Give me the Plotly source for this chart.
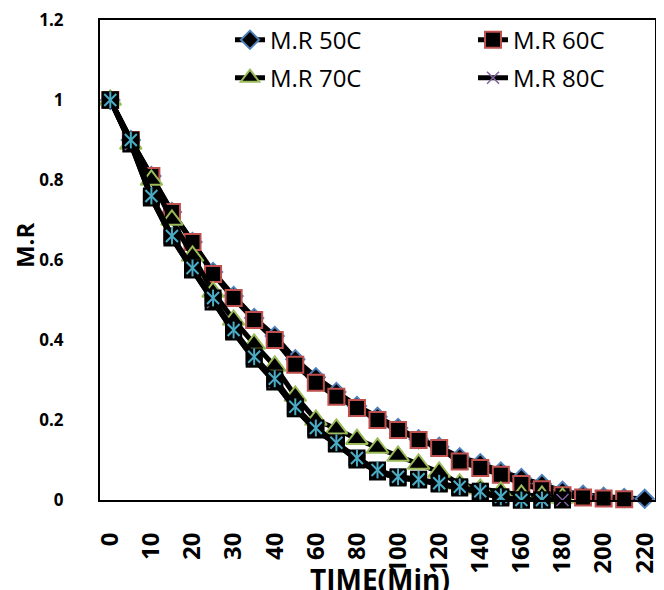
import plotly.graph_objects as go

# ---- data ----
time_categories = [0, 5, 10, 15, 20, 25, 30, 35, 40, 50, 60, 70, 80, 90, 100,
                   110, 120, 130, 140, 150, 160, 170, 180, 190, 200, 210, 220]
x_tick_labels = ["0", "10", "20", "30", "40", "60", "80", "100", "120", "140",
                 "160", "180", "200", "220"]
y_tick_values = [0, 0.2, 0.4, 0.6, 0.8, 1.0, 1.2]
y_tick_labels = ["0", "0.2", "0.4", "0.6", "0.8", "1", "1.2"]

mr_50c = [1.0, 0.90, 0.81, 0.72, 0.645, 0.57, 0.51, 0.455, 0.41, 0.352, 0.307,
          0.27, 0.235, 0.208, 0.18, 0.152, 0.133, 0.107, 0.092, 0.071, 0.055,
          0.04, 0.023, 0.013, 0.008, 0.005, 0.003]
mr_60c = [1.0, 0.90, 0.81, 0.72, 0.645, 0.565, 0.505, 0.45, 0.40, 0.338, 0.293,
          0.258, 0.23, 0.20, 0.175, 0.15, 0.13, 0.096, 0.08, 0.063, 0.04,
          0.027, 0.012, 0.006, 0.004, 0.002]
mr_70c = [1.0, 0.89, 0.80, 0.70, 0.61, 0.52, 0.45, 0.39, 0.335, 0.26, 0.20,
          0.178, 0.152, 0.13, 0.11, 0.09, 0.07, 0.04, 0.028, 0.02, 0.013,
          0.01, 0.005]
mr_80c = [1.0, 0.89, 0.755, 0.655, 0.575, 0.495, 0.42, 0.352, 0.295, 0.228,
          0.175, 0.14, 0.10, 0.07, 0.055, 0.05, 0.04, 0.03, 0.02, 0.005, 0.0,
          0.0, 0.0]
mr_series5 = [1.0, 0.90, 0.76, 0.66, 0.58, 0.505, 0.425, 0.358, 0.303, 0.233,
              0.18, 0.143, 0.105, 0.075, 0.058, 0.052, 0.042, 0.033, 0.022,
              0.008, 0.0, 0.0]

cats = [str(t) for t in time_categories]

def xs(vals):
    return cats[:len(vals)]

LINE = dict(color="black", width=5)
FONT = "Open Sans"
BLUE, RED, GREEN, PURPLE, CYAN = "#4F81BD", "#C0504D", "#9BBB59", "#8064A2", "#4BACC6"

fig = go.Figure()

# M.R 50C
fig.add_trace(go.Scatter(
    x=xs(mr_50c), y=mr_50c, name="M.R 50C", mode="lines+markers", line=LINE,
    marker=dict(symbol="diamond", size=14, color="black",
                line=dict(color=BLUE, width=2)),
    cliponaxis=False, legend="legend"))
# M.R 60C
fig.add_trace(go.Scatter(
    x=xs(mr_60c), y=mr_60c, name="M.R 60C", mode="lines+markers", line=LINE,
    marker=dict(symbol="square", size=16, color="black",
                line=dict(color=RED, width=2)),
    cliponaxis=False, legend="legend2"))
# M.R 70C
fig.add_trace(go.Scatter(
    x=xs(mr_70c), y=mr_70c, name="M.R 70C", mode="lines+markers", line=LINE,
    marker=dict(symbol="triangle-up", size=19, color="black",
                line=dict(color=GREEN, width=2)),
    cliponaxis=False, legend="legend3"))
# M.R 80C (black square background + purple x)
fig.add_trace(go.Scatter(
    x=xs(mr_80c), y=mr_80c, name="M.R 80C", mode="lines+markers", line=LINE,
    marker=dict(symbol="square", size=17, color="black", line=dict(width=0)),
    cliponaxis=False, showlegend=False))
fig.add_trace(go.Scatter(
    x=xs(mr_80c), y=mr_80c, name="M.R 80C", mode="lines+markers", line=LINE,
    marker=dict(symbol="x-thin-open", size=12, color=PURPLE,
                line=dict(color=PURPLE, width=1.5)),
    cliponaxis=False, legend="legend4"))
# unlabeled fifth series (cyan star on black square)
fig.add_trace(go.Scatter(
    x=xs(mr_series5), y=mr_series5, name="series5", mode="lines+markers",
    line=LINE,
    marker=dict(symbol="square", size=17, color="black", line=dict(width=0)),
    cliponaxis=False, showlegend=False))
fig.add_trace(go.Scatter(
    x=xs(mr_series5), y=mr_series5, name="series5", mode="markers",
    marker=dict(symbol="x-thin-open", size=12, color=CYAN,
                line=dict(color=CYAN, width=2)),
    cliponaxis=False, showlegend=False))
fig.add_trace(go.Scatter(
    x=xs(mr_series5), y=mr_series5, name="series5", mode="markers",
    marker=dict(symbol="line-ns-open", size=12, color=CYAN,
                line=dict(color=CYAN, width=2)),
    cliponaxis=False, showlegend=False))

legend_common = dict(orientation="h", bgcolor="rgba(0,0,0,0)", borderwidth=0,
                     font=dict(family=FONT, size=24, color="black"),
                     xanchor="left", yanchor="middle")
col1_x, col2_x = 0.2342, 0.6721
row1_y, row2_y = 0.958, 0.879

fig.update_layout(
    width=656, height=582,
    margin=dict(l=92, r=9, t=12, b=90),
    paper_bgcolor="white", plot_bgcolor="white",
    showlegend=True,
    legend=dict(x=col1_x, y=row1_y, **legend_common),
    legend2=dict(x=col2_x, y=row1_y, **legend_common),
    legend3=dict(x=col1_x, y=row2_y, **legend_common),
    legend4=dict(x=col2_x, y=row2_y, **legend_common),
    xaxis=dict(
        type="category", categoryorder="array", categoryarray=cats,
        range=[-0.5, 26.5], tickmode="array", tickvals=x_tick_labels,
        ticktext=x_tick_labels, tickangle=-90, ticks="",
        ticklabelstandoff=21, automargin=False, ticklabeloverflow="allow",
        tickfont=dict(family=FONT, size=24, color="black", weight="bold"),
        showgrid=False, zeroline=False,
        showline=True, linecolor="black", linewidth=2, mirror=True),
    yaxis=dict(
        range=[0, 1.2], tickmode="array", tickvals=y_tick_values,
        ticktext=y_tick_labels, ticks="",
        ticklabelstandoff=31, automargin=False, ticklabeloverflow="allow",
        tickfont=dict(family=FONT, size=17, color="black", weight="bold"),
        showgrid=False, zeroline=False,
        showline=True, linecolor="black", linewidth=2, mirror=True),
    annotations=[
        dict(text="TIME(Min)", xref="paper", yref="paper", x=0.505, y=-0.165,
             xanchor="center", yanchor="middle", showarrow=False,
             font=dict(family=FONT, size=28, color="black", weight="bold")),
        dict(text="M.R", xref="paper", yref="paper", x=-0.137, y=0.531,
             xanchor="center", yanchor="middle", showarrow=False,
             textangle=-90,
             font=dict(family=FONT, size=24, color="black", weight="bold")),
    ],
)

fig.write_html("out.html")
